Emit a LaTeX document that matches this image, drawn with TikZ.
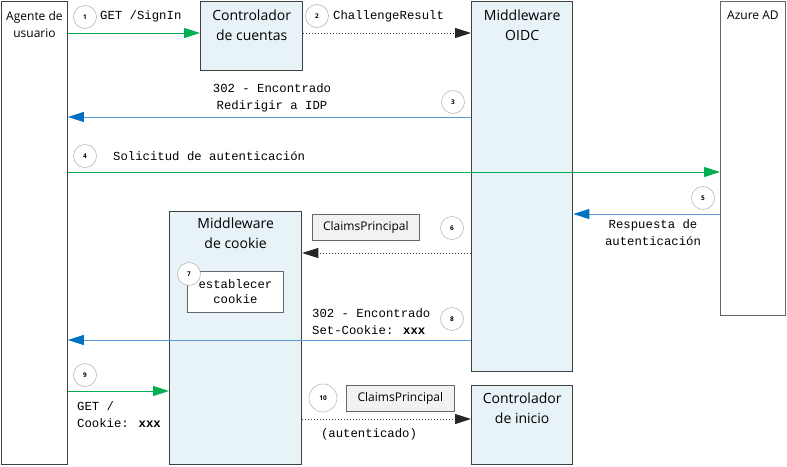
\documentclass[tikz,border=0pt]{standalone}
\usepackage{fontspec}
\setmainfont{Open Sans}
\newfontfamily\codefont{Liberation Mono}
\usetikzlibrary{arrows.meta}
\definecolor{flowgreen}{HTML}{00B050}
\definecolor{flowblue}{HTML}{0070C0}
\definecolor{lineblue}{HTML}{5B9BD5}
\definecolor{boxfill}{HTML}{E8F3F8}
\definecolor{boxedge}{HTML}{404040}
\definecolor{tagfill}{HTML}{F2F2F2}

\begin{document}
\begin{tikzpicture}[x=1pt,y=-1pt,
	actor/.style={draw=boxedge, line width=0.9pt, fill=white, anchor=north west, inner sep=0pt},
	module/.style={draw=boxedge, line width=1.3pt, fill=boxfill, anchor=north west, inner sep=0pt},
	title/.style={anchor=north, align=center, inner sep=0pt, font=\fontsize{14}{20}\selectfont},
	smalltitle/.style={anchor=north, align=center, inner sep=0pt, font=\fontsize{12}{17}\selectfont},
	code/.style={inner sep=0pt, font=\codefont\fontsize{12.3}{17}\selectfont},
	stepnum/.style={circle, draw=gray!55, fill=white, line width=0.6pt, minimum size=23pt, inner sep=0pt, font=\bfseries\fontsize{6.5}{7}\selectfont},
	tag/.style={draw=gray!80!black, line width=0.7pt, fill=tagfill, anchor=north west, minimum height=26pt, minimum width=107pt, inner sep=0pt, font=\fontsize{12}{13}\selectfont},
	msg/.style={line width=1pt},
	go/.style={msg, draw=flowgreen, -{Triangle[length=16pt,width=10pt,color=flowgreen]}},
	back/.style={msg, draw=lineblue, -{Triangle[length=16pt,width=10pt,color=flowblue]}},
	pass/.style={msg, draw=boxedge, dotted, -{Triangle[length=16pt,width=10pt,color=black!85]}},
	]
	\useasboundingbox (0,0) rectangle (787,466);

	% participants
	\node[actor, minimum width=66pt, minimum height=463pt] (ua) at (1,1) {};
	\node[smalltitle] (uaname) at (ua.north |- 0,11) {Agente de\\usuario};
	\node[module, minimum width=102pt, minimum height=69pt] (cuentas) at (200,1) {};
	\node[title] (cuentasname) at (cuentas.north |- 0,10) {Controlador\\de cuentas};
	\node[module, minimum width=101pt, minimum height=370pt] (oidc) at (471,1) {};
	\node[title] (oidcname) at (oidc.north |- 0,10) {Middleware\\OIDC};
	\node[actor, draw=black!60, minimum width=65pt, minimum height=314pt] (azure) at (720,1) {};
	\node[smalltitle] (azurename) at (azure.north |- 0,11) {Azure AD};
	\node[module, minimum width=132pt, minimum height=253pt] (cookie) at (169,211) {};
	\node[title] (cookiename) at (cookie.north |- 0,218) {Middleware\\de cookie};
	\node[actor, draw=gray!80!black, minimum width=96pt, minimum height=41pt] (setcookie) at (187,271) {};
	\node[code, align=center, font=\codefont\fontsize{12.3}{15}\selectfont] (setcookietext) at (setcookie.center) {establecer\\cookie};
	\node[module, minimum width=101pt, minimum height=79pt] (inicio) at (471,385) {};
	\node[title] (inicioname) at (inicio.north |- 0,393) {Controlador\\de inicio};

	% messages
	\draw[go] (ua.east |- 0,33) -- (cuentas.west |- 0,33);
	\draw[pass] (cuentas.east |- 0,33) -- (oidc.west |- 0,33);
	\draw[back] (oidc.west |- 0,117) -- (ua.east |- 0,117);
	\draw[go] (ua.east |- 0,172) -- (azure.west |- 0,172);
	\draw[back] (azure.west |- 0,214) -- (oidc.east |- 0,214);
	\draw[pass] (oidc.west |- 0,253) -- (cookie.east |- 0,253);
	\draw[back] (oidc.west |- 0,340) -- (ua.east |- 0,340);
	\draw[go] (ua.east |- 0,391) -- (cookie.west |- 0,391);
	\draw[pass] (cookie.east |- 0,419) -- (inicio.west |- 0,419);

	% labels
	\node[code, anchor=west] (getsignin) at (100,16) {GET /SignIn};
	\node[code, anchor=west] (challenge) at (333,16) {ChallengeResult};
	\node[code, align=center] (redirect) at (272,98) {302 - Encontrado\\Redirigir a IDP};
	\node[code, anchor=west] (authreq) at (113,156) {Solicitud de autenticación};
	\node[code, align=center] (authresp) at (653,233) {Respuesta de\\autenticación};
	\node[tag] (claims1) at (312,214) {ClaimsPrincipal};
	\node[code, anchor=west, align=left] (found) at (312,322) {302 - Encontrado\\Set-Cookie: \textbf{xxx}};
	\node[code, anchor=west, align=left] (getroot) at (77,415) {GET /\\Cookie: \textbf{xxx}};
	\node[tag, minimum width=108pt] (claims2) at (346,385) {ClaimsPrincipal};
	\node[code] (authed) at (369,434) {(autenticado)};

	% step numbers
	\node[stepnum] (s1) at (85,17) {1};
	\node[stepnum] (s2) at (317,16) {2};
	\node[stepnum] (s3) at (453,102) {3};
	\node[stepnum] (s4) at (85,156) {4};
	\node[stepnum] (s5) at (703,198) {5};
	\node[stepnum] (s6) at (452,228) {6};
	\node[stepnum] (s7) at (189,274) {7};
	\node[stepnum] (s8) at (452,319) {8};
	\node[stepnum] (s9) at (85,375) {9};
	\node[stepnum, minimum size=28pt] (s10) at (323,398) {10};
\end{tikzpicture}
\end{document}
